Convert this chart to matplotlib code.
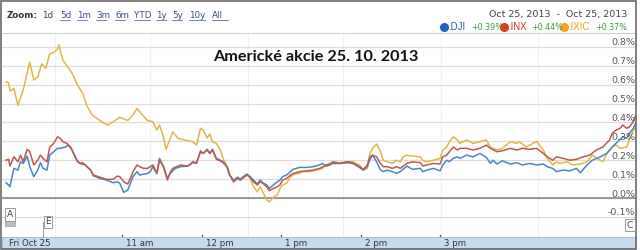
import matplotlib
matplotlib.use("Agg")
import matplotlib.pyplot as plt
from matplotlib.patches import Rectangle
import matplotlib.transforms as mtransforms

# ---------------- data (minutes after 9:30, % change) ----------------
ixic_t = [2,4,5,8,11,15,18,20,23,26,29,32,35,38,41,42,45,48,52,56,60,63,67,71,75,79,83,88,94,98,101,105,109,113,116,118,121,123,128,132,137,143,146,149,151,154,156,158,161,164,166,169,171,174,177,179,181,184,186,189,192,194,196,199,201,204,207,209,211,214,217,219,222,224,226,232,237,241,244,249,254,260,264,269,272,275,277,279,282,285,287,290,294,297,300,302,305,309,315,317,320,325,330,332,335,337,340,343,345,347,350,355,360,365,368,373,377,383,388,390,395,400,403,408,411,415,418,420,426,430,436,441,445,451,453,456,460,463,466,471,473,476,478]
ixic_v = [0.615,0.61,0.566,0.58,0.49,0.571,0.66,0.72,0.624,0.64,0.71,0.686,0.762,0.769,0.79,0.81,0.73,0.70,0.66,0.598,0.554,0.49,0.44,0.42,0.40,0.386,0.404,0.427,0.41,0.44,0.474,0.44,0.41,0.404,0.36,0.386,0.324,0.258,0.35,0.316,0.307,0.298,0.28,0.369,0.36,0.317,0.339,0.298,0.289,0.254,0.21,0.166,0.122,0.086,0.11,0.095,0.113,0.122,0.113,0.06,0.033,0.06,0.033,-0.01,-0.02,0.004,0.016,0.05,0.069,0.078,0.113,0.122,0.13,0.13,0.14,0.14,0.148,0.157,0.175,0.192,0.187,0.192,0.192,0.175,0.148,0.157,0.236,0.263,0.286,0.245,0.20,0.192,0.183,0.20,0.192,0.218,0.227,0.222,0.218,0.20,0.192,0.20,0.21,0.254,0.27,0.298,0.324,0.307,0.289,0.298,0.307,0.289,0.298,0.307,0.27,0.254,0.263,0.298,0.289,0.298,0.27,0.289,0.298,0.254,0.21,0.175,0.192,0.183,0.192,0.175,0.18,0.192,0.227,0.20,0.192,0.236,0.27,0.28,0.263,0.27,0.307,0.36,0.37]

inx_t = [2,4,5,8,11,13,15,18,20,23,26,28,30,33,35,38,41,43,45,48,51,53,56,58,60,63,66,68,73,78,83,86,88,91,94,96,98,101,103,106,109,111,113,116,118,121,124,126,128,131,134,139,141,143,146,149,151,154,156,158,161,164,166,169,171,174,177,179,181,184,186,189,192,194,196,199,201,204,207,209,211,214,217,219,224,229,234,239,244,249,254,260,264,269,272,275,277,279,282,285,287,290,294,297,300,302,305,309,315,317,320,325,330,332,335,337,340,343,345,350,355,360,365,368,373,377,383,388,392,398,403,408,411,415,418,423,428,433,438,443,448,453,458,460,463,466,468,471,473,476,478]
inx_v = [0.20,0.205,0.169,0.218,0.192,0.227,0.192,0.258,0.245,0.175,0.20,0.227,0.21,0.192,0.268,0.289,0.324,0.316,0.298,0.289,0.268,0.236,0.197,0.183,0.187,0.166,0.148,0.122,0.11,0.099,0.099,0.116,0.113,0.086,0.074,0.104,0.14,0.175,0.166,0.157,0.157,0.166,0.175,0.13,0.20,0.166,0.095,0.134,0.157,0.166,0.175,0.169,0.175,0.192,0.187,0.245,0.236,0.254,0.236,0.254,0.205,0.197,0.187,0.166,0.122,0.086,0.104,0.095,0.104,0.122,0.113,0.086,0.069,0.086,0.078,0.06,0.039,0.051,0.06,0.069,0.095,0.104,0.122,0.13,0.14,0.144,0.148,0.157,0.175,0.183,0.183,0.192,0.187,0.166,0.152,0.175,0.218,0.227,0.218,0.183,0.166,0.166,0.157,0.166,0.157,0.169,0.183,0.192,0.187,0.169,0.175,0.183,0.18,0.218,0.227,0.245,0.27,0.254,0.263,0.263,0.254,0.263,0.28,0.263,0.245,0.25,0.263,0.254,0.263,0.258,0.263,0.236,0.218,0.20,0.218,0.21,0.20,0.205,0.218,0.227,0.254,0.27,0.307,0.342,0.36,0.369,0.386,0.369,0.377,0.404,0.44]

dji_t = [2,4,5,8,11,13,15,18,20,23,26,28,30,33,35,38,41,43,47,49,52,56,58,62,66,68,73,78,83,86,88,91,94,96,98,101,103,109,111,113,116,118,121,124,126,130,134,139,143,146,149,151,154,156,158,161,164,166,169,171,174,177,179,181,184,186,189,192,194,196,199,201,204,207,209,211,214,217,219,224,229,234,239,241,244,247,249,254,260,264,269,272,275,277,279,282,285,287,290,294,297,300,302,305,309,315,317,320,325,330,332,335,337,340,343,345,350,355,360,365,368,370,373,377,383,388,392,398,403,408,411,415,418,423,428,433,436,441,445,451,456,460,466,468,471,473,476,478]
dji_v = [0.081,0.069,0.06,0.157,0.148,0.192,0.183,0.222,0.166,0.113,0.148,0.187,0.157,0.148,0.227,0.245,0.263,0.263,0.27,0.28,0.254,0.192,0.183,0.175,0.148,0.118,0.104,0.095,0.081,0.086,0.078,0.03,0.042,0.078,0.113,0.14,0.122,0.13,0.14,0.166,0.13,0.21,0.166,0.104,0.13,0.157,0.166,0.169,0.187,0.183,0.25,0.236,0.258,0.236,0.258,0.21,0.20,0.192,0.166,0.122,0.095,0.11,0.099,0.11,0.127,0.116,0.095,0.074,0.095,0.081,0.069,0.051,0.069,0.086,0.095,0.113,0.122,0.14,0.152,0.162,0.162,0.166,0.175,0.183,0.169,0.175,0.192,0.183,0.187,0.183,0.162,0.148,0.166,0.205,0.227,0.192,0.148,0.14,0.148,0.14,0.13,0.14,0.152,0.169,0.152,0.157,0.14,0.148,0.157,0.144,0.175,0.20,0.192,0.21,0.218,0.21,0.227,0.218,0.236,0.215,0.183,0.20,0.18,0.197,0.18,0.187,0.175,0.183,0.175,0.18,0.166,0.157,0.14,0.148,0.144,0.157,0.134,0.175,0.20,0.218,0.236,0.27,0.31,0.324,0.316,0.342,0.369,0.398]

y_ticks = [-0.1, 0.0, 0.1, 0.2, 0.3, 0.4, 0.5, 0.6, 0.7, 0.8]
x_tick_pos = [90, 150, 210, 270, 330]
x_tick_labels = ["11 am", "12 pm", "1 pm", "2 pm", "3 pm"]
first_label = "Fri Oct 25"
title = "Americké akcie 25. 10. 2013"
legend_items = [(".DJI", "+0.39%"), (".INX", "+0.44%"), (".IXIC", "+0.37%")]
zoom_links = ["5d", "1m", "3m", "6m", "YTD", "1y", "5y", "10y", "All"]
date_range = "Oct 25, 2013  -  Oct 25, 2013"

# ---------------- figure ----------------
W, H = 640, 250
fig = plt.figure(figsize=(W / 100, H / 100), dpi=100)
fig.patch.set_facecolor("white")

def fx(px):
    return px / W

def fy(py):
    return 1 - py / H

blue_c = "#4a87c2"
red_c = "#bb5a4e"
gold_c = "#e3b649"

# main plot axes
ax = fig.add_axes([fx(2), fy(237), fx(636) - fx(2), fy(33) - fy(237)])
ax.set_xlim(-1, 478)
ax.set_ylim(-0.206, 0.873)
ax.set_yticks(y_ticks)
ax.set_xticks([39, 111, 185, 257, 331, 404], minor=True)
ax.set_xticks([])
ax.tick_params(left=False, right=False, labelleft=False, labelright=False,
               bottom=False, which="both", labelbottom=False)
ax.grid(axis="y", color="#dcdcdc", lw=0.9)
ax.grid(axis="x", which="minor", color="#f0f0f0", lw=0.8)
ax.set_axisbelow(True)
ax.axhline(0, color="#8a8a8a", lw=1.2, zorder=1)
ax.spines["top"].set_color("#cfcfcf")
ax.spines["left"].set_visible(False)
ax.spines["right"].set_visible(False)
ax.spines["bottom"].set_visible(False)

ax.plot(ixic_t, ixic_v, color=gold_c, lw=1.1, zorder=3)
ax.plot(dji_t, dji_v, color=blue_c, lw=1.1, zorder=4)
ax.plot(inx_t, inx_v, color=red_c, lw=1.1, zorder=5)

trans = mtransforms.blended_transform_factory(ax.transAxes, ax.transData)
for v in y_ticks:
    ax.text(0.9985, v + 0.008, f"{v:.1f}%", transform=trans, ha="right", va="baseline",
            fontsize=6.8, color="#555555", family="DejaVu Sans", zorder=6)

ax.text(0.495, 0.882, title, transform=ax.transAxes, ha="center", va="center",
        fontsize=11.7, fontweight="bold", family="Lato", color="#111111", zorder=6)

# flags
def flag(px, py, letter):
    fig.text(fx(px), fy(py), letter, ha="center", va="center", fontsize=6.5,
             color="#444444", family="DejaVu Sans",
             bbox=dict(boxstyle="square,pad=0.18", fc="white", ec="#999999", lw=0.7))

fig.add_artist(Rectangle((fx(4.5), fy(226)), fx(10.5), fy(219) - fy(226),
                         transform=fig.transFigure, fc="#bdbdbd", ec="#9a9a9a", lw=0.5))
flag(10, 214.5, "A")
fig.add_artist(plt.Line2D([fx(43), fx(43)], [fy(222), fy(237)],
                          transform=fig.transFigure, color="#999999", lw=0.7))
flag(48, 222, "E")
flag(630, 225, "C")

# x-axis bar
bx = fig.add_axes([fx(2), fy(248), fx(636) - fx(2), fy(237) - fy(248)])
bx.set_xlim(-1, 478)
bx.set_ylim(0, 1)
bx.set_facecolor("#c7dbf0")
bx.set_xticks([])
bx.set_yticks([])
for s in bx.spines.values():
    s.set_color("#aab8c8")
    s.set_linewidth(0.6)
bx.text(4, 0.45, first_label, ha="left", va="center", fontsize=6.2,
        color="#333333", family="DejaVu Sans")
for p, lab in zip(x_tick_pos, x_tick_labels):
    bx.text(p + 3, 0.45, lab, ha="left", va="center", fontsize=6.2,
            color="#333333", family="DejaVu Sans")
    ax.plot([p, p], [-0.206, -0.193], color="#555555", lw=0.9, clip_on=False, zorder=6)

# header
fig.text(fx(7), fy(15), "Zoom:", ha="left", va="center", fontsize=6.3,
         fontweight="bold", color="#333333", family="DejaVu Sans")
fig.text(fx(42), fy(15), "1d", ha="left", va="center", fontsize=6.3,
         color="#444444", family="DejaVu Sans")
link_x = [60, 77, 96, 115, 134, 156, 172, 189, 212]
for lx, lab in zip(link_x, zoom_links):
    fig.text(fx(lx), fy(15), lab, ha="left", va="center", fontsize=6.3,
             color="#3a4f8a", family="DejaVu Sans")
    fig.add_artist(plt.Line2D([fx(lx), fx(lx + 5.2 * len(lab))], [fy(19.5), fy(19.5)],
                              transform=fig.transFigure, color="#3a4f8a", lw=0.5))

fig.text(fx(627), fy(14), date_range, ha="right", va="center", fontsize=6.8,
         color="#444444", family="DejaVu Sans")

leg_colors = ["#1e63c4", "#d9401f", "#f5a520"]
leg_text_colors = ["#2a5cab", "#cc3a1c", "#e8a21c"]
leg_x = [444, 504, 564]
for (nm, pc), dc, tc, lx in zip(legend_items, leg_colors, leg_text_colors, leg_x):
    fig.add_artist(plt.Line2D([fx(lx)], [fy(27)], marker="o", ms=5.5, color=dc,
                              transform=fig.transFigure))
    fig.text(fx(lx + 4.5), fy(27), nm, ha="left", va="center", fontsize=7,
             color=tc, family="Liberation Sans")
    fig.text(fx(lx + 27 + (4 if nm == ".IXIC" else 0)), fy(27.5), pc, ha="left", va="center",
             fontsize=5.8, color="#3d9a3d", family="DejaVu Sans")

# outer frame
fig.add_artist(Rectangle((fx(1), fy(249)), fx(636) - fx(1), fy(1) - fy(249),
                         transform=fig.transFigure, fill=False, ec="#6a6a6a", lw=1.2))

fig.savefig("out.png", dpi=100, facecolor="white")
